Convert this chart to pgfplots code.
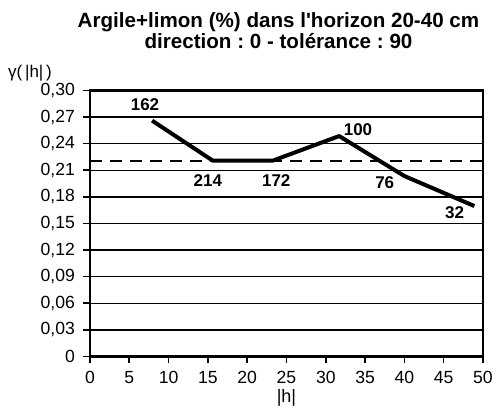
\documentclass[border=0pt]{standalone}
\usepackage{fontspec}
\setmainfont{Liberation Sans}
\usepackage{pgfplots}
\pgfplotsset{compat=1.18}
\frenchspacing
\begin{document}
\begin{tikzpicture}
\begin{axis}[
  scale only axis,
  width=196.5pt, height=133pt,
  xmin=0, xmax=50, ymin=0, ymax=0.30,
  xtick={0,5,...,50},
  ytick={0,0.03,0.06,0.09,0.12,0.15,0.18,0.21,0.24,0.27,0.30},
  yticklabels={0,{0,03},{0,06},{0,09},{0,12},{0,15},{0,18},{0,21},{0,24},{0,27},{0,30}},
  /pgf/number format/assume math mode=true,
  tick label style={font=\fontsize{8.8}{10}\selectfont},
  tick align=outside,
  tick pos=left,
  major tick length=3.5pt,
  every tick/.style={black, line width=0.8pt},
  axis line style={line width=1.1pt},
  ymajorgrids,
  major grid style={black, line width=0.7pt},
  xticklabel style={yshift=-0.5pt},
  yticklabel style={xshift=-0.5pt},
  clip=false,
]
\addplot[black, line width=0.9pt, dash pattern=on 6pt off 4pt] coordinates {(0,0.2207) (50,0.2207)};
\addplot[black, line width=2pt, line join=round] coordinates {
(7.9,0.266) (15.6,0.221) (23.3,0.221) (31.7,0.2486) (40.0,0.2035) (48.9,0.1697)};
\begin{scope}[every node/.style={font=\bfseries\fontsize{8.5}{9}\selectfont}]
\node at (axis cs:7.0,0.2835) {162};
\node at (axis cs:15.0,0.198) {214};
\node at (axis cs:23.7,0.198) {172};
\node at (axis cs:34.1,0.2554) {100};
\node at (axis cs:37.5,0.196) {76};
\node at (axis cs:46.4,0.162) {32};
\end{scope}
\node[anchor=base, align=center, font=\bfseries\fontsize{10.3}{10.5}\selectfont] at ([yshift=21pt,xshift=-4pt]rel axis cs:0.5,1) {Argile+limon (\%) dans l\textquotesingle horizon 20-40 cm\\direction : 0 - tolérance : 90};
\node[font=\fontsize{8.5}{9}\selectfont] at ([xshift=-30pt,yshift=8.5pt]rel axis cs:0,1) {γ(\,|h|\,)};
\node[font=\fontsize{9}{9}\selectfont] at ([yshift=-20.75pt]rel axis cs:0.5,0) {|h|};
\end{axis}
\pgfresetboundingbox
\path ([shift={(-45pt,-26.75pt)}]current axis.south west) rectangle +(250pt,205pt);
\end{tikzpicture}
\end{document}
